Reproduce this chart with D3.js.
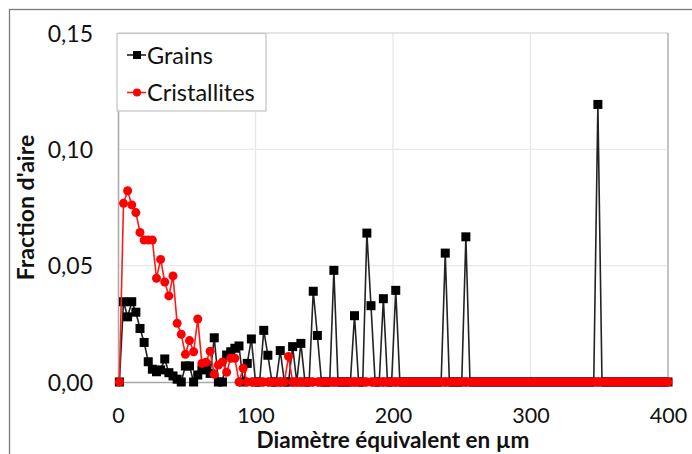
<!DOCTYPE html>
<html>
<head>
<meta charset="utf-8">
<script src="https://cdn.jsdelivr.net/npm/d3@7"></script>
<style>
  html, body { margin: 0; padding: 0; background: #fff; }
  svg { display: block; }
  text { font-family: Lato, "Open Sans", sans-serif; }
</style>
</head>
<body>
<svg id="chart" width="692" height="454"></svg>
<script>
// ---- data ----
const diameters = [
  1,4,7,10,13,16,19,22,25,28,
  31,34,37,40,43,46,49,52,55,58,
  61,64,67,70,73,76,79,82,85,88,
  91,94,97,100,103,106,109,112,115,118,
  121,124,127,130,133,136,139,142,145,148,
  151,154,157,160,163,166,169,172,175,178,
  181,184,187,190,193,196,199,202,205,208,
  211,214,217,220,223,226,229,232,235,238,
  241,244,247,250,253,256,259,262,265,268,
  271,274,277,280,283,286,289,292,295,298,
  301,304,307,310,313,316,319,322,325,328,
  331,334,337,340,343,346,349,352,355,358,
  361,364,367,370,373,376,379,382,385,388,
  391,394,397,400
];
const grains = [
  0,0.0345,0.028,0.0345,0.030,0.023,0.017,0.0087,0.0055,0.0044,
  0.0052,0.0099,0.004,0.0026,0.0012,0,0.0069,0.0069,0,0.003,
  0.0052,0.0072,0.0037,0.019,0,0,0.0116,0.013,0.0145,0.0155,
  0,0.008,0.0185,0,0,0.0222,0.0115,0,0,0.0135,
  0,0,0.0152,0,0.0166,0,0,0.039,0.020,0,
  0,0,0.048,0,0,0,0,0.0285,0,0,
  0.064,0.0328,0,0,0.0358,0,0,0.0394,0,0,
  0,0,0,0,0,0,0,0,0,0.0554,
  0,0,0,0,0.0624,0,0,0,0,0,
  0,0,0,0,0,0,0,0,0,0,
  0,0,0,0,0,0,0,0,0,0,
  0,0,0,0,0,0,0.1193,0,0,0,
  0,0,0,0,0,0,0,0,0,0,
  0,0,0,0
];
const cristallites = [
  0,0.0768,0.0822,0.0761,0.0728,0.0643,0.061,0.061,0.061,0.0446,
  0.0527,0.043,0.037,0.0456,0.0252,0.0205,0.0119,0.0178,0.013,0.0271,
  0.008,0.0085,0.0132,0.0033,0.0073,0.0086,0.0042,0.0102,0.0102,0,
  0.0059,0,0,0,0,0,0,0,0,0,
  0,0.011,0,0,0,0,0,0,0,0,
  0,0,0,0,0,0,0,0,0,0,
  0,0,0,0,0,0,0,0,0,0,
  0,0,0,0,0,0,0,0,0,0,
  0,0,0,0,0,0,0,0,0,0,
  0,0,0,0,0,0,0,0,0,0,
  0,0,0,0,0,0,0,0,0,0,
  0,0,0,0,0,0,0,0,0,0,
  0,0,0,0,0,0,0,0,0,0,
  0,0,0,0
];
const xTicks = [0, 100, 200, 300, 400];
const yTicks = [0, 0.05, 0.10, 0.15];
const seriesNames = ["Grains", "Cristallites"];
const xTitle = "Diamètre équivalent en µm";
const yTitle = "Fraction d'aire";

// ---- chart ----
const svg = d3.select("#chart");
const L = 118, R = 668, T = 33, B = 382;
const x = d3.scaleLinear().domain([0, 400]).range([L, R]);
const y = d3.scaleLinear().domain([0, 0.15]).range([B, T]);

// outer chart border
svg.append("rect").attr("x", 9.5).attr("y", 9.5).attr("width", 720).attr("height", 520)
  .attr("fill", "none").attr("stroke", "#7a7a7a").attr("stroke-width", 1.3);

// gridlines
svg.append("g").selectAll("line").data(yTicks.filter(d => d > 0 && d < 0.15)).join("line")
  .attr("x1", L).attr("x2", R).attr("y1", d => y(d)).attr("y2", d => y(d))
  .attr("stroke", "#e8e8e8").attr("stroke-width", 1.3);
svg.append("g").selectAll("line").data(xTicks.filter(d => d > 0 && d < 400)).join("line")
  .attr("y1", T).attr("y2", B).attr("x1", d => x(d)).attr("x2", d => x(d))
  .attr("stroke", "#e8e8e8").attr("stroke-width", 1.3);

// plot area border (top/right)
svg.append("line").attr("x1", L).attr("x2", R).attr("y1", T).attr("y2", T)
  .attr("stroke", "#dcdcdc").attr("stroke-width", 1.3);
svg.append("line").attr("x1", R).attr("x2", R).attr("y1", T).attr("y2", B)
  .attr("stroke", "#c4c4c4").attr("stroke-width", 2);

// axes
const gx = svg.append("g").attr("transform", `translate(0,${B})`)
  .call(d3.axisBottom(x).tickValues(xTicks).tickSize(0).tickPadding(0).tickFormat(d3.format("d")));
gx.select(".domain").attr("stroke", "#a8a8a8").attr("stroke-width", 1.5);
gx.selectAll("text").attr("y", 41).attr("dy", null).attr("font-size", 21.5)
  .attr("fill", "#111").style("font-family", "Lato, sans-serif");

const fmtY = d => d3.format(".2f")(d).replace(".", ",");
const gy = svg.append("g").attr("transform", `translate(${L},0)`)
  .call(d3.axisLeft(y).tickValues(yTicks).tickSize(0).tickPadding(0).tickFormat(fmtY));
gy.select(".domain").attr("stroke", "#a8a8a8").attr("stroke-width", 1.5);
gy.selectAll("text").attr("x", -25).attr("dy", "0.35em").attr("font-size", 23)
  .attr("fill", "#111").style("font-family", "Lato, sans-serif");

// axis titles
svg.append("text").attr("x", (L + R) / 2).attr("y", 448).attr("text-anchor", "middle")
  .attr("font-size", 22.5).attr("font-weight", "bold").attr("fill", "#111").text(xTitle);
svg.append("text").attr("transform", `translate(34,${(T + B) / 2}) rotate(-90)`)
  .attr("text-anchor", "middle").attr("font-size", 23).attr("font-weight", "bold")
  .attr("fill", "#111").text(yTitle);

// series
const gData = diameters.map((d, i) => ({ x: d, y: grains[i] }));
const cData = diameters.map((d, i) => ({ x: d, y: cristallites[i] }));
const line = d3.line().x(d => x(d.x)).y(d => y(d.y));

svg.append("path").datum(gData).attr("d", line).attr("fill", "none")
  .attr("stroke", "#222").attr("stroke-width", 1.6);
svg.append("g").selectAll("rect").data(gData).join("rect")
  .attr("x", d => x(d.x) - 4.5).attr("y", d => y(d.y) - 4.5)
  .attr("width", 9).attr("height", 9).attr("fill", "#000");

svg.append("path").datum(cData).attr("d", line).attr("fill", "none")
  .attr("stroke", "#ff1a1a").attr("stroke-width", 1.6);
svg.append("g").selectAll("circle").data(cData).join("circle")
  .attr("cx", d => x(d.x)).attr("cy", d => y(d.y)).attr("r", 4.5).attr("fill", "#ff0000");

// legend
const lg = svg.append("g");
lg.append("rect").attr("x", 117).attr("y", 33.5).attr("width", 149).attr("height", 77.5)
  .attr("fill", "#fff").attr("stroke", "#c8c8c8").attr("stroke-width", 1.3);
const legendItems = [
  { name: seriesNames[0], color: "#000", stroke: "#222", shape: "square", cy: 55 },
  { name: seriesNames[1], color: "#ff0000", stroke: "#ff1a1a", shape: "circle", cy: 92.5 }
];
legendItems.forEach(it => {
  lg.append("line").attr("x1", 127).attr("x2", 146).attr("y1", it.cy).attr("y2", it.cy)
    .attr("stroke", it.stroke).attr("stroke-width", 1.6);
  if (it.shape === "square") {
    lg.append("rect").attr("x", 133).attr("y", it.cy - 4).attr("width", 8).attr("height", 8).attr("fill", it.color);
  } else {
    lg.append("circle").attr("cx", 137).attr("cy", it.cy).attr("r", 4).attr("fill", it.color);
  }
  lg.append("text").attr("x", 147).attr("y", it.cy + 8.5).attr("font-size", 23.5)
    .attr("fill", "#111").text(it.name);
});
</script>
</body>
</html>
